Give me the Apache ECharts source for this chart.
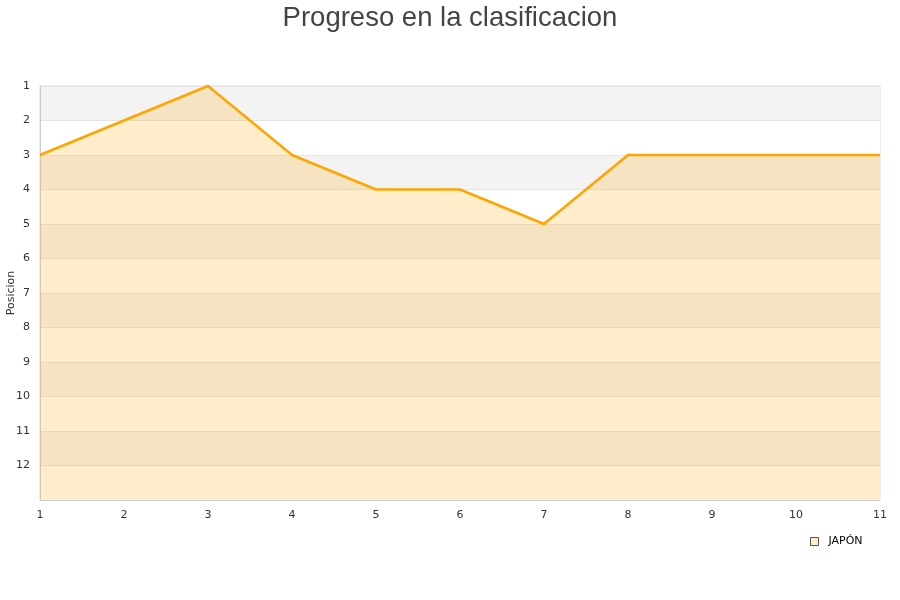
<!DOCTYPE html>
<html><head><meta charset="utf-8">
<script src="https://cdn.jsdelivr.net/npm/echarts@6/dist/echarts.min.js"></script>
<style>html,body{margin:0;padding:0;background:#fff}#c{width:900px;height:600px}</style>
</head><body><div id="c"></div>
<script>
var jornadas = [1,2,3,4,5,6,7,8,9,10,11];
var posiciones = [3,2,1,3,4,4,5,3,3,3,3];
var seriesName = 'JAPÓN';
var titleText = 'Progreso en la clasificacion';

var chart = echarts.init(document.getElementById('c'));
chart.setOption({
  animation: false,
  title: {text: titleText, left: 'center', top: -1,
    textStyle: {fontFamily: 'Liberation Sans, Arial', fontSize: 27.5, fontWeight: 'normal', color: '#444'}},
  grid: {left: 40, right: 20, top: 86, bottom: 100, outerBoundsMode: 'none', containLabel: false,
    show: true, borderColor: '#ddd', borderWidth: 1, backgroundColor: 'transparent'},
  legend: {data: [{name: seriesName, icon: 'rect'}], left: 810, top: 536, padding: 0, itemWidth: 8, itemHeight: 8, itemGap: 10,
    textStyle: {fontFamily: 'DejaVu Sans', fontSize: 11, color: '#000', padding: [0, 0, 0, 5]},
    itemStyle: {color: '#ffeccc', borderColor: '#555', borderWidth: 1}},
  xAxis: {type: 'value', min: 1, max: 11, interval: 1,
    axisLine: {show: true, lineStyle: {color: '#ccc'}}, axisTick: {show: false},
    splitLine: {show: false},
    axisLabel: {fontFamily: 'DejaVu Sans', fontSize: 11, color: '#333', margin: 10}},
  yAxis: {type: 'value', min: 1, max: 13, interval: 1, inverse: true,
    name: 'Posicion', nameLocation: 'middle', nameGap: 23, nameRotate: 90, nameMoveOverlap: false,
    nameTextStyle: {fontFamily: 'DejaVu Sans', fontSize: 11, color: '#333'},
    axisLine: {show: true, lineStyle: {color: '#ccc'}}, axisTick: {show: false},
    axisLabel: {fontFamily: 'DejaVu Sans', fontSize: 11, color: '#333', margin: 10,
      formatter: function(v){ return v === 13 ? '' : String(v); }},
    splitLine: {show: true, lineStyle: {color: '#e4e4e4'}},
    splitArea: {show: true, areaStyle: {color: ['#f3f3f3', '#ffffff']}}},
  series: [{
    name: seriesName, type: 'line',
    data: jornadas.map(function(j, i){ return [j, posiciones[i]]; }),
    showSymbol: false, symbol: 'none',
    lineStyle: {color: '#ffa500', width: 2.5},
    itemStyle: {color: '#ffeccc'},
    areaStyle: {color: 'rgba(255,165,0,0.2)', opacity: 1, origin: 'end'}
  }]
});
</script></body></html>
